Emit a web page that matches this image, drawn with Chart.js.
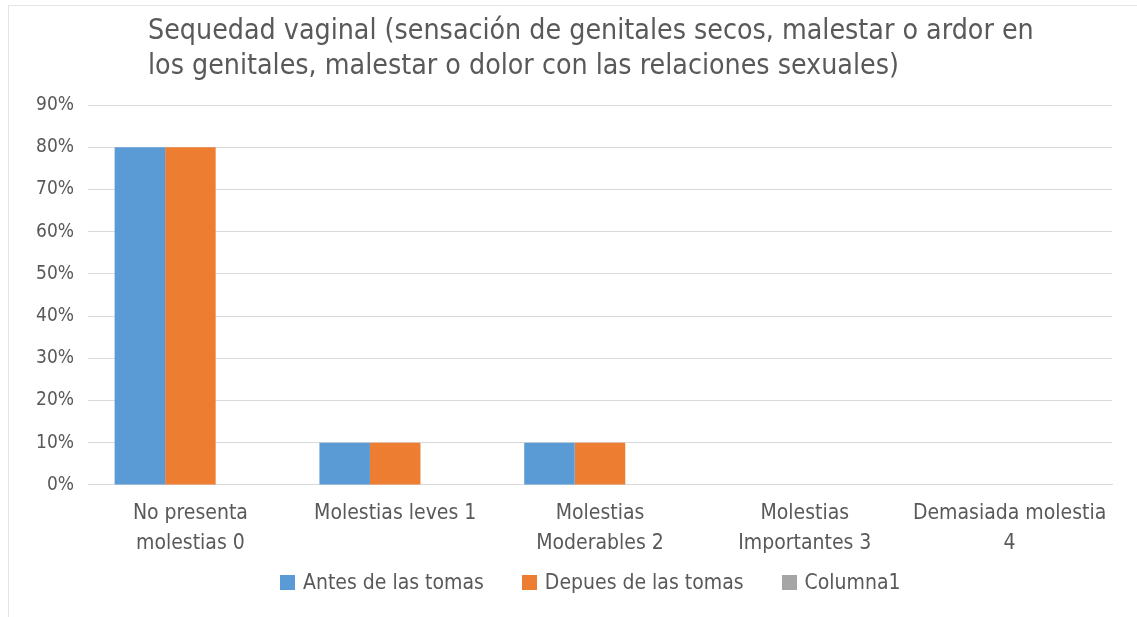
<!DOCTYPE html>
<html>
<head>
<meta charset="utf-8">
<script src="https://cdn.jsdelivr.net/npm/chart.js@4"></script>
<style>
  html, body { margin: 0; padding: 0; background: #fff; }
  #wrap { position: absolute; left: 0; top: 0; width: 1137px; height: 617px; }
  #frame { position: absolute; left: 8px; top: 5px; width: 1140px; height: 620px; border: 1px solid #e4e4e4; }
  canvas { position: absolute; left: 0; top: 0; }
  #legend { position: absolute; left: 280px; top: 568px; height: 28px; display: flex; align-items: center;
            font-family: 'Liberation Sans Narrow', 'DejaVu Sans Condensed', Arial, sans-serif; font-size: 21px; color: #595959; }
  #legend .item { display: flex; align-items: center; margin-right: 38px; white-space: nowrap; }
  #legend .item:last-child { margin-right: 0; }
  #legend .box { width: 15px; height: 15px; margin-right: 8px; }
</style>
</head>
<body>
<div id="wrap">
  <div id="frame"></div>
  <canvas id="chart" width="1137" height="617"></canvas>
  <div id="legend"></div>
</div>
<script>
// Categories and series
var categories = [
    ['No presenta', 'molestias 0'],
    ['Molestias leves 1'],
    ['Molestias', 'Moderables 2'],
    ['Molestias', 'Importantes 3'],
    ['Demasiada molestia', '4']
];
var antes = [80, 10, 10, 0, 0];
var despues = [80, 10, 10, 0, 0];
var columna1 = [null, null, null, null, null];
var yTicks = [0, 10, 20, 30, 40, 50, 60, 70, 80, 90];
var titleLines = [
    'Sequedad vaginal (sensación de genitales secos, malestar o ardor en',
    'los genitales, malestar o dolor con las relaciones sexuales)'
];

var FONT = "'Liberation Sans Narrow', 'DejaVu Sans Condensed', Arial, sans-serif";
var TEXT = '#595959';

// Title drawn left-aligned as a block, like the spreadsheet original
var titlePlugin = {
    id: 'blockTitle',
    afterDraw: function(chart) {
        var ctx = chart.ctx;
        ctx.save();
        ctx.fillStyle = TEXT;
        ctx.font = '28.3px ' + FONT;
        ctx.textBaseline = 'middle';
        ctx.textAlign = 'left';
        ctx.fillText(titleLines[0], 148, 32);
        ctx.fillText(titleLines[1], 148, 67);
        ctx.restore();
    }
};

// HTML legend built from the chart's own legend items
var htmlLegend = {
    id: 'htmlLegend',
    afterUpdate: function(chart) {
        var box = document.getElementById('legend');
        box.innerHTML = '';
        var items = chart.options.plugins.legend.labels.generateLabels(chart);
        items.forEach(function(item) {
            var el = document.createElement('div');
            el.className = 'item';
            var sw = document.createElement('span');
            sw.className = 'box';
            sw.style.background = item.fillStyle;
            var tx = document.createElement('span');
            tx.textContent = item.text;
            el.appendChild(sw);
            el.appendChild(tx);
            box.appendChild(el);
        });
    }
};

var ctx = document.getElementById('chart').getContext('2d');
var chart = new Chart(ctx, {
    type: 'bar',
    data: {
        labels: categories,
        datasets: [
            { label: 'Antes de las tomas', data: antes, backgroundColor: '#5B9BD5' },
            { label: 'Depues de las tomas', data: despues, backgroundColor: '#ED7D31' },
            { label: 'Columna1', data: columna1, backgroundColor: '#A5A5A5' }
        ]
    },
    options: {
        responsive: false,
        animation: false,
        devicePixelRatio: 1,
        layout: { padding: { left: 10, right: 25, top: 105, bottom: 44 } },
        datasets: {
            bar: { barPercentage: 1.0, categoryPercentage: 0.74, borderWidth: 0 }
        },
        plugins: {
            title: { display: false },
            tooltip: { enabled: false },
            legend: { display: false }
        },
        scales: {
            x: {
                grid: { display: false, drawTicks: false },
                border: { color: '#d9d9d9' },
                ticks: {
                    color: TEXT,
                    font: { family: FONT, size: 21, lineHeight: 1.43 },
                    maxRotation: 0,
                    autoSkip: false,
                    padding: 14
                }
            },
            y: {
                min: 0,
                max: 90,
                afterFit: function(scale) { scale.width = 78; },
                afterBuildTicks: function(scale) {
                    scale.ticks = yTicks.map(function(v) { return { value: v }; });
                },
                grid: { color: '#d9d9d9', drawTicks: false },
                border: { display: false },
                ticks: {
                    color: TEXT,
                    font: { family: FONT, size: 19 },
                    padding: 14,
                    callback: function(v) { return v + '%'; }
                }
            }
        }
    },
    plugins: [titlePlugin, htmlLegend]
});
</script>
</body>
</html>
